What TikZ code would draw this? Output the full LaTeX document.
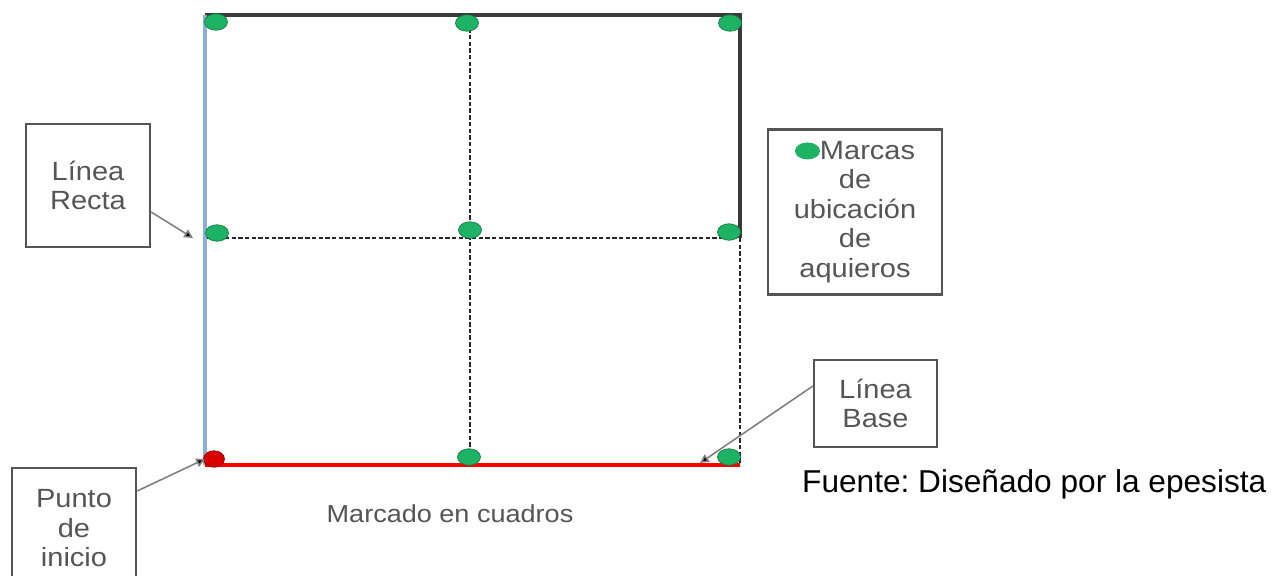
\documentclass[tikz,border=0pt]{standalone}
\usepackage{fontspec}
\setmainfont{Liberation Sans}
\newfontfamily\boxfont[FakeStretch=1.1]{Liberation Sans}
\usetikzlibrary{arrows.meta,shapes.geometric}
\definecolor{dotgreen}{HTML}{1DB264}
\definecolor{edgeblue}{HTML}{8AAED6}
\definecolor{edgegray}{HTML}{3A3A3A}
\definecolor{txtgray}{HTML}{555555}
\tikzset{
  px/.style={x=0.02cm,y=-0.02cm},
  label box/.style={draw=txtgray,line width=1.3pt,align=center,inner sep=0pt,text=txtgray,font=\boxfont\fontsize{15}{16.8}\selectfont},
  mark dot/.style={ellipse,fill=dotgreen,draw=dotgreen!70!black,line width=0.4pt,minimum width=0.46cm,minimum height=0.33cm,inner sep=0pt},
  grid dash/.style={draw=black!85,line width=1.6pt,dash pattern=on 2.5pt off 1.3pt},
  pointer/.style={draw=gray,line width=0.9pt,-{Triangle[length=5pt,width=5pt,fill=black]}}
}
\begin{document}
\begin{tikzpicture}[px]
\useasboundingbox (0,0) rectangle (1283,575);
% corners
\coordinate (tl) at (205,15);
\coordinate (tm) at (470,15);
\coordinate (tr) at (740,15);
\coordinate (ml) at (205,238);
\coordinate (mm) at (470,238);
\coordinate (mr) at (740,238);
\coordinate (bl) at (205,465);
\coordinate (bm) at (470,465);
\coordinate (br) at (740,465);
% grid lines
\draw[grid dash] (tm) -- (bm);
\draw[grid dash] (ml) -- (mr);
\draw[grid dash] (mr) -- (br);
\draw[edgegray,line width=2pt] (tl) -- (tr) -- (mr);
\draw[edgeblue,line width=2.2pt] (tl) -- (bl);
\draw[red,line width=2pt] (bl) -- (br);
% dots
\node[mark dot] (d1) at (216,22) {};
\node[mark dot] (d2) at (467,23) {};
\node[mark dot] (d3) at (730,23) {};
\node[mark dot] (d4) at (217,233) {};
\node[mark dot] (d5) at (470,230) {};
\node[mark dot] (d6) at (729,232) {};
\node[mark dot] (d7) at (469,457) {};
\node[mark dot] (d8) at (729,457) {};
\node[mark dot,fill=red!85!black,draw=red!60!black,minimum width=0.42cm] (d0) at (214,459) {};
% label boxes
\node[label box,minimum width=2.48cm,minimum height=2.46cm] (recta) at (88,185.5) {Línea\\Recta};
\node[label box,minimum width=3.48cm,minimum height=3.3cm] (marcas) at (855,212) {\tikz[baseline=-0.6ex]\fill[dotgreen] (0,0) ellipse (0.25cm and 0.17cm);Marcas\\de\\ubicación\\de\\aquieros};
\node[label box,minimum width=2.46cm,minimum height=1.74cm] (base) at (875.5,403.5) {Línea\\Base};
\node[label box,minimum width=2.48cm,minimum height=2.4cm,anchor=north] (punto) at (74,467) {Punto\\de\\inicio};
% pointers
\coordinate (recta-tip) at (193,238);
\coordinate (base-tip) at (700,463);
\coordinate (punto-tip) at (205,459);
\draw[pointer] (recta.east |- 0,212) -- (recta-tip);
\draw[pointer] (base.west |- 0,386) -- (base-tip);
\draw[pointer] (punto.east |- 0,491) -- (punto-tip);
% captions
\node[text=txtgray,font=\boxfont\fontsize{14}{16}\selectfont] (caption) at (450,514) {Marcado en cuadros};
\node[font=\fontsize{18}{20}\selectfont,anchor=base west] (fuente) at (796,492) {\frenchspacing Fuente: Diseñado por la epesista};
\end{tikzpicture}
\end{document}
